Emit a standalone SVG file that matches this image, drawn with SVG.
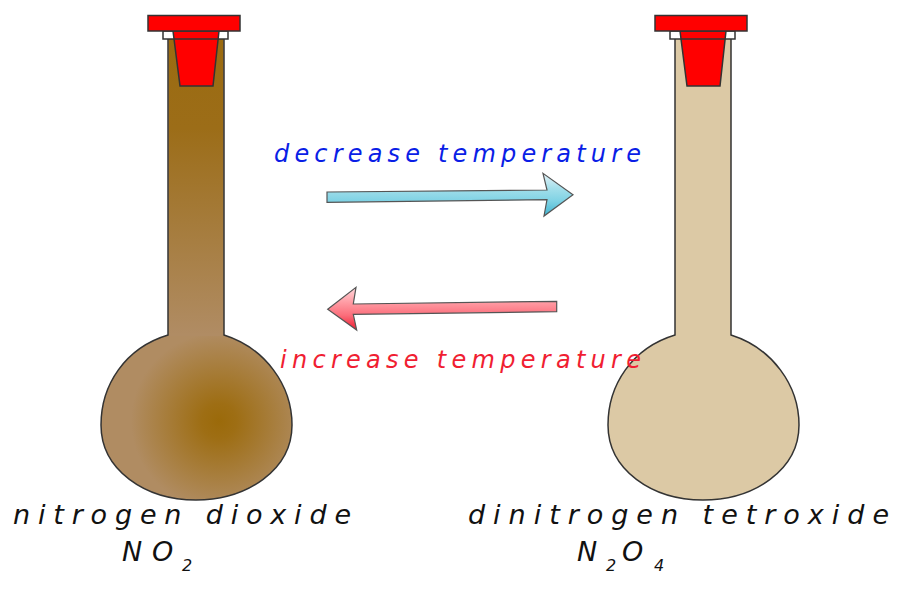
<svg xmlns="http://www.w3.org/2000/svg" width="900" height="595" viewBox="0 0 900 595">
<style>
.o{stroke:#333;stroke-width:1.5;stroke-linejoin:miter}
.t{font-family:"DejaVu Sans","Liberation Sans",sans-serif;font-style:italic}
.big{font-size:27px;fill:#111}
.mid{font-size:24px}
.sub{font-size:16px}
.ar{stroke:#555;stroke-width:1.2}
</style>
<defs>
<linearGradient id="neckA" gradientUnits="userSpaceOnUse" x1="0" y1="40" x2="0" y2="335"><stop offset="0" stop-color="#9b6b10"/><stop offset="0.3" stop-color="#9c6d18"/><stop offset="1" stop-color="#b08c64"/></linearGradient>
<radialGradient id="bulbA" gradientUnits="userSpaceOnUse" cx="219" cy="421" r="88"><stop offset="0" stop-color="#9b6a0a"/><stop offset="0.2" stop-color="#9e6e14"/><stop offset="1" stop-color="#b08c62"/></radialGradient>
<linearGradient id="blue" x1="0" y1="0" x2="0" y2="1"><stop offset="0" stop-color="#e6f3f8"/><stop offset="0.35" stop-color="#a4dfeb"/><stop offset="0.65" stop-color="#7fd2e4"/><stop offset="1" stop-color="#3fb4d0"/></linearGradient>
<linearGradient id="pink" x1="0" y1="0" x2="0" y2="1"><stop offset="0" stop-color="#ffd8dc"/><stop offset="0.35" stop-color="#ff9ca4"/><stop offset="0.65" stop-color="#fb6f7c"/><stop offset="1" stop-color="#ee1c30"/></linearGradient>
<path id="flask" d="M168 38V335C125 348 101 385 101 425C101 470 145 500 196 500C247 500 292 470 292 425C292 385 265 348 224 335V38Z"/>
<g id="stopper"><rect class="o" x="163" y="31" width="65" height="8" fill="#fff"/><path class="o" d="M173 31H219L213 86H180Z" fill="#f00"/><path class="o" d="M174 39H218" fill="none"/><rect class="o" x="148" y="15.500" width="92" height="15.500" fill="#f00"/></g>
</defs>
<g id="flask-left">
<path d="M168 38V335C125 348 101 385 101 425C101 470 145 500 196 500C247 500 292 470 292 425C292 385 265 348 224 335V38Z" fill="url(#bulbA)"/>
<rect x="168.800" y="38" width="54.400" height="298" fill="url(#neckA)"/>
<use href="#flask" class="o" fill="none"/>
<path d="M169 334.500H223" stroke="#b08c64" stroke-width="2"/>
<use href="#stopper"/>
</g>
<g id="flask-right" transform="translate(507 0)">
<use href="#flask" class="o" fill="#dcc9a5"/>
<use href="#stopper"/>
</g>
<g id="connectors">
<path class="ar" fill="url(#blue)" d="M327 192L547 190L543 173.300L573 194.700L544 216L547 199.700L327 202.300Z"/>
<path class="ar" fill="url(#pink)" d="M327.700 309.300L356 287.300L353.300 304L556.700 301.300V311.700L353.300 314.300L356.700 330Z"/>
</g>
<g id="labels">
<text class="t mid" x="274" y="162" fill="#0a1ee6" textLength="367" lengthAdjust="spacing">decrease temperature</text>
<text class="t mid" x="280" y="368" fill="#f01e32" textLength="361" lengthAdjust="spacing">increase temperature</text>
<text class="t big" x="13" y="524" textLength="338" lengthAdjust="spacing">nitrogen dioxide</text>
<text class="t big" y="561"><tspan x="122">N</tspan><tspan x="152">O</tspan><tspan class="sub" x="182" y="571">2</tspan></text>
<text class="t big" x="468" y="524" textLength="421" lengthAdjust="spacing">dinitrogen tetroxide</text>
<text class="t big" y="561"><tspan x="577">N</tspan><tspan class="sub" x="606" y="571">2</tspan><tspan x="622" y="561">O</tspan><tspan class="sub" x="654" y="571">4</tspan></text>
</g>
</svg>
